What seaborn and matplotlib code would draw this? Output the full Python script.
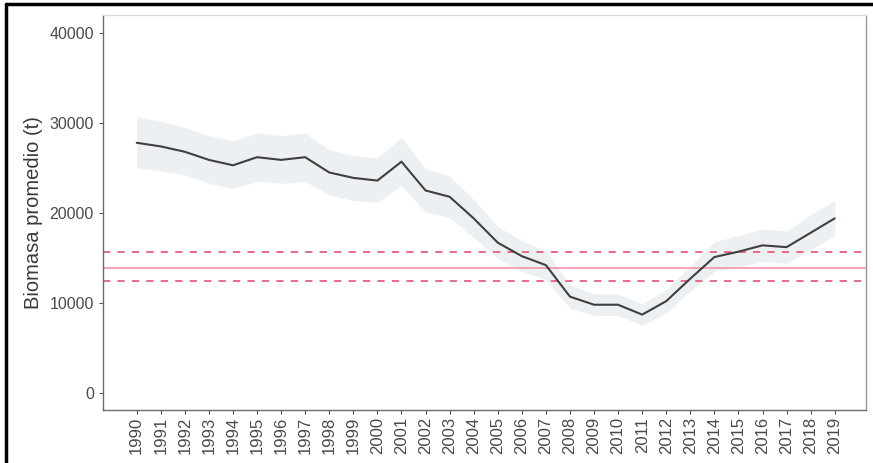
import numpy as np
import pandas as pd
import matplotlib
matplotlib.use("Agg")
import matplotlib.pyplot as plt
import seaborn as sns
from matplotlib.lines import Line2D

# Biomass series
years = list(range(1990, 2020))
biomasa = [27800, 27400, 26800, 25900, 25300, 26200, 25900, 26200, 24500, 23900,
           23600, 25700, 22500, 21800, 19400, 16700, 15200, 14200, 10700, 9800,
           9800, 8700, 10200, 12700, 15100, 15700, 16400, 16200, 17800, 19400]
lim_inf = [25000, 24700, 24200, 23300, 22700, 23500, 23300, 23500, 22000, 21400,
           21200, 23000, 20100, 19500, 17300, 14900, 13500, 12600, 9400, 8600,
           8600, 7500, 8900, 11300, 13500, 14000, 14600, 14400, 15900, 17500]
lim_sup = [30700, 30200, 29500, 28600, 28000, 28900, 28600, 28900, 27000, 26400,
           26100, 28400, 24900, 24100, 21500, 18500, 16900, 15800, 12000, 11000,
           11000, 9900, 11500, 14100, 16800, 17500, 18200, 18000, 19800, 21400]

# Reference levels (red lines)
ref_media = 13900
ref_sup = 15700
ref_inf = 12450

df = pd.DataFrame({"anio": years, "biomasa": biomasa,
                   "inf": lim_inf, "sup": lim_sup})

sns.set_style("white")
plt.rcParams["font.family"] = ["Liberation Sans", "DejaVu Sans"]

fig = plt.figure(figsize=(8.73, 4.63), dpi=100)
ax = fig.add_axes([0.118, 0.1145, 0.874, 0.853])

ax.fill_between(df["anio"], df["inf"], df["sup"], color="#edf0f2", lw=0, zorder=1)
ax.axhline(ref_media, color="#f095a8", lw=1.2, zorder=2)
ax.axhline(ref_sup, color="#e6607e", lw=1.3, ls=(0, (4, 4)), zorder=2)
ax.axhline(ref_inf, color="#e6607e", lw=1.3, ls=(0, (4, 4)), zorder=2)
sns.lineplot(data=df, x="anio", y="biomasa", color="#3f3f3f", lw=1.5, ax=ax, zorder=3)

ax.set_xlim(1988.6, 2020.3)
ax.set_ylim(-1900, 42000)
ax.set_xticks(years)
ax.set_xticklabels([str(y) for y in years], rotation=90)
ax.set_yticks([0, 10000, 20000, 30000, 40000])
ax.set_xlabel("")
ax.set_ylabel("Biomasa promedio (t)", fontsize=14.5, color="#3a3a3a", labelpad=5)

ax.tick_params(axis="y", labelsize=11.5)
ax.tick_params(axis="x", labelsize=12, pad=2)
ax.tick_params(axis="both", colors="#555555", length=3, width=0.8,
               direction="out", bottom=True, left=True)
for lab in ax.get_xticklabels() + ax.get_yticklabels():
    lab.set_color("#4a4a4a")

for side in ["top", "right"]:
    ax.spines[side].set_color("#dcdcdc")
    ax.spines[side].set_linewidth(1.0)
for side in ["left", "bottom"]:
    ax.spines[side].set_color("#6b6b6b")
    ax.spines[side].set_linewidth(1.0)
ax.spines["right"].set_color("#999999")

# scan frame on left and top
fig.add_artist(Line2D([0.007, 0.007], [0.0, 0.992], color="black", lw=2.5,
                      transform=fig.transFigure))
fig.add_artist(Line2D([0.007, 1.0], [0.992, 0.992], color="black", lw=2.5,
                      transform=fig.transFigure))

fig.savefig("out.png", dpi=100)
